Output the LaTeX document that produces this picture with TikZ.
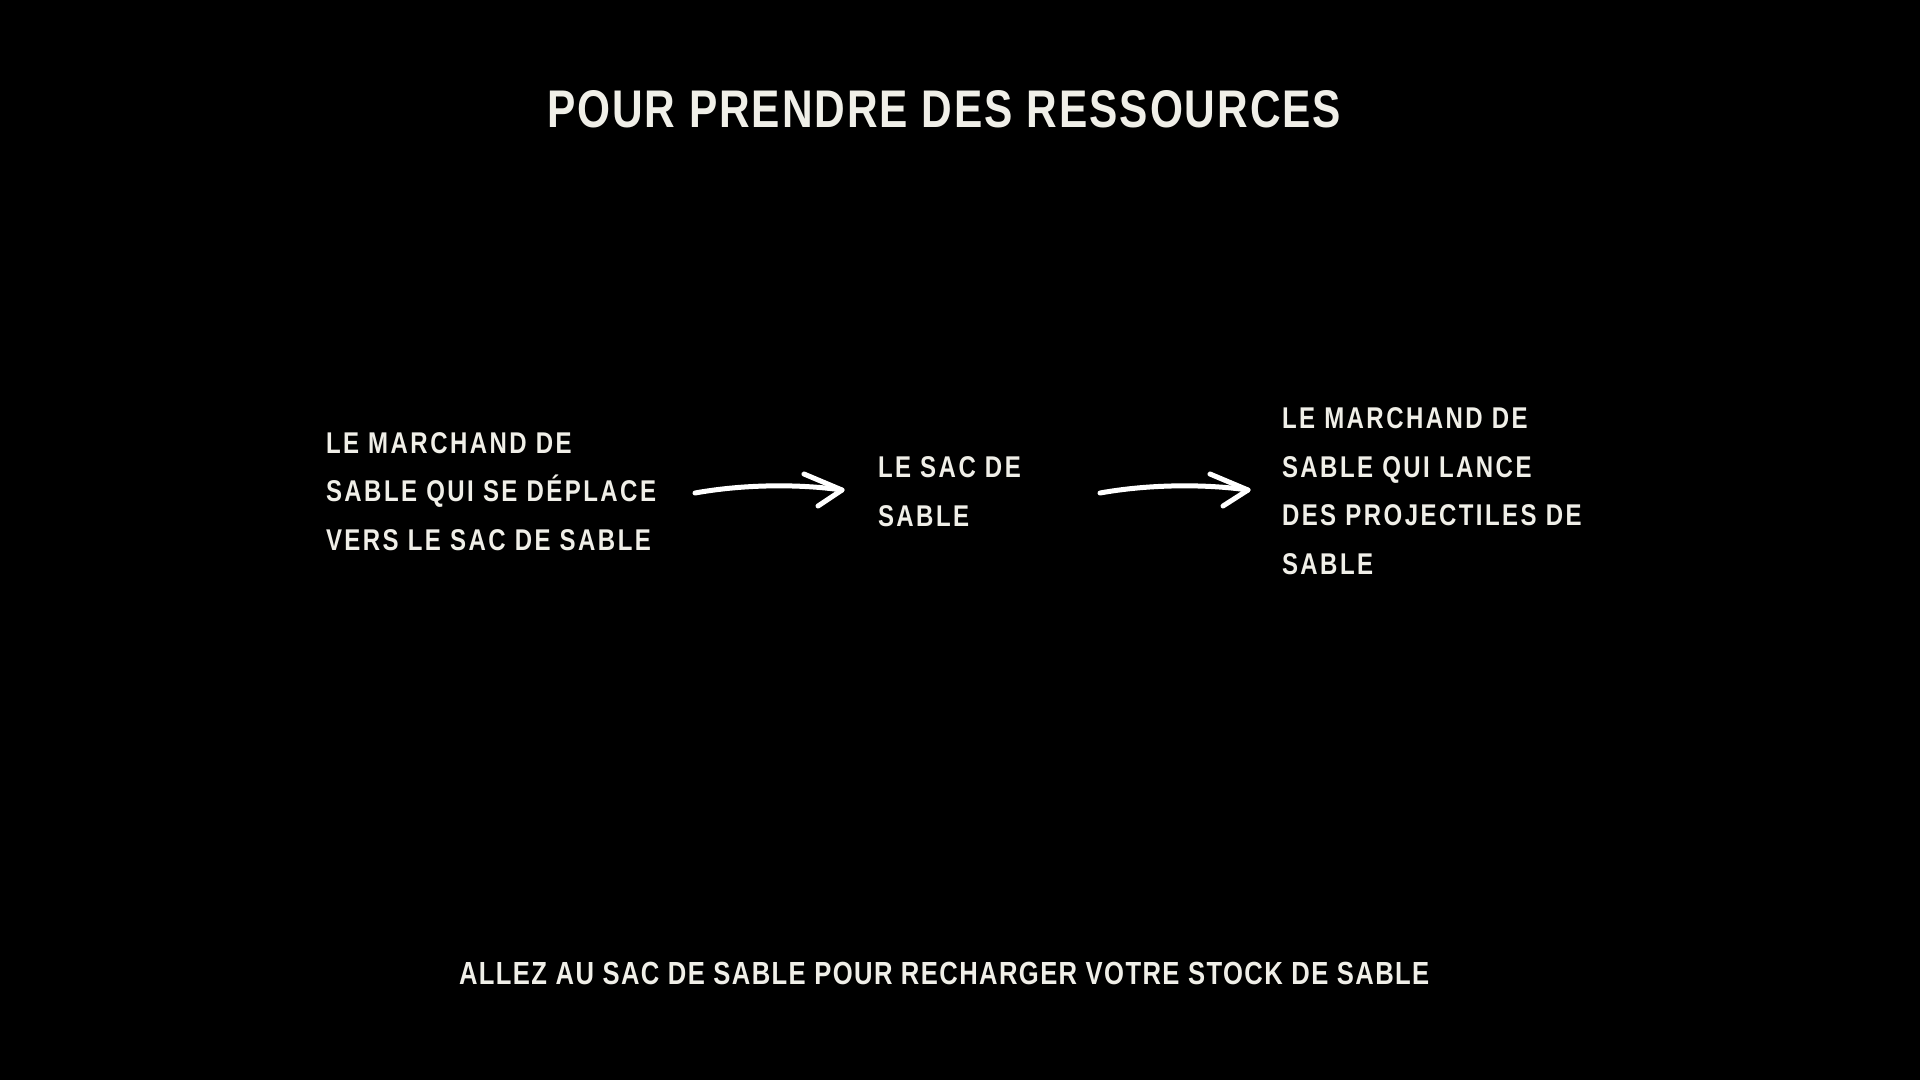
\documentclass[tikz,border=0pt]{standalone}
\usepackage{fontspec}
\setmainfont{Liberation Sans}
\newfontfamily\titlefont{Liberation Sans}[FakeStretch=0.8,LetterSpace=3.7]
\newfontfamily\bodyfont{Liberation Sans}[FakeStretch=0.8,LetterSpace=8.2]
\newfontfamily\footfont{Liberation Sans}[FakeStretch=0.8,LetterSpace=4.4]
\definecolor{chalk}{HTML}{F0EFE8}
\begin{document}
\begin{tikzpicture}[x=1pt,y=-1pt,
  txt/.style={text=chalk,inner sep=0pt,outer sep=0pt,align=left},
  headline/.style={txt,font=\titlefont\bfseries\fontsize{53}{60}\selectfont},
  body/.style={txt,font=\bodyfont\bfseries\fontsize{30}{48.4}\selectfont},
  foot/.style={txt,font=\footfont\bfseries\fontsize{32}{40}\selectfont},
  stroke/.style={draw=white,line width=5pt,line cap=round,line join=round}]
\fill[black] (0,0) rectangle (1920,1080);
\useasboundingbox (0,0) rectangle (1920,1080);

\node[headline,anchor=base west] (title) at (547,127) {POUR PRENDRE DES RESSOURCES};

% multi-line nodes: base anchor is the baseline of the last line
\node[body,anchor=base west] (walker) at (326,550) {LE MARCHAND DE\\SABLE QUI SE DÉPLACE\\VERS LE SAC DE SABLE};
\node[body,anchor=base west] (bag) at (878,526) {LE SAC DE\\SABLE};
\node[body,anchor=base west] (thrower) at (1282,574) {LE MARCHAND DE\\SABLE QUI LANCE\\DES PROJECTILES DE\\SABLE};

\node[foot,anchor=base west] (note) at (459,984) {ALLEZ AU SAC DE SABLE POUR RECHARGER VOTRE STOCK DE SABLE};

% arrow 1
\coordinate (a1s) at (695,493);
\coordinate (a1t) at (842,490);
\coordinate (a1u) at (804,474);
\coordinate (a1l) at (818,506);
\draw[stroke] (a1s) .. controls (745,484) and (800,484) .. (a1t);
\draw[stroke] (a1u) -- (a1t) -- (a1l);

% arrow 2
\coordinate (a2s) at (1100,493);
\coordinate (a2t) at (1248,490);
\coordinate (a2u) at (1210,474);
\coordinate (a2l) at (1223,506);
\draw[stroke] (a2s) .. controls (1150,484) and (1206,484) .. (a2t);
\draw[stroke] (a2u) -- (a2t) -- (a2l);
\end{tikzpicture}
\end{document}
